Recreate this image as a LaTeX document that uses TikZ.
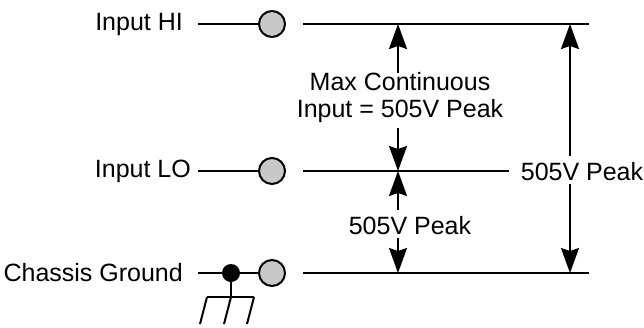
\documentclass[tikz,border=0pt]{standalone}
\usepackage{fontspec}
\setmainfont{Liberation Sans}
\usetikzlibrary{arrows.meta, positioning}
\definecolor{termgray}{RGB}{200,200,200}
\tikzset{
    wire/.style={line width=2pt},
    dim/.style={line width=1.8pt, -{Stealth[length=25pt, width=18pt, inset=3pt]}},
    term/.style={draw, line width=2pt, fill=termgray, circle, minimum size=26pt, inner sep=0pt},
    tie/.style={fill=black, circle, minimum size=18pt, inner sep=0pt},
    lbl/.style={inner sep=0pt, font=\fontsize{25}{27}\selectfont}
}
\begin{document}
\begin{tikzpicture}[x=1pt, y=-1pt]
    \useasboundingbox (0,0) rectangle (644,327);
    % labels
    \node[lbl, anchor=east] (hi) at (183,24) {Input HI};
    \node[lbl, anchor=east] (lo) at (191,171) {Input LO};
    \node[lbl, anchor=east] (gnd) at (183,273) {Chassis Ground};
    % terminals
    \node[term] (thi) at (272,24) {};
    \node[term] (tlo) at (272,171) {};
    \node[term] (tgnd) at (272,273) {};
    \node[tie] (dot) at (231,273) {};
    \coordinate (l1) at (198,24);
    \coordinate (l2) at (198,171);
    \coordinate (l3) at (198,273);
    \draw[wire] (l1) -- (thi);
    \draw[wire] (l2) -- (tlo);
    \draw[wire] (l3) -- (dot) -- (tgnd);
    % buses
    \coordinate (b1) at (303,24);
    \coordinate (b2) at (303,171);
    \coordinate (b3) at (303,273);
    \coordinate (e1) at (589,24);
    \coordinate (e2) at (509,171);
    \coordinate (e3) at (589,273);
    \draw[wire] (b1) -- (e1);
    \draw[wire] (b2) -- (e2);
    \draw[wire] (b3) -- (e3);
    % ground symbol
    \coordinate (g0) at (231,297);
    \coordinate (g1) at (207,297);
    \coordinate (g2) at (254,297);
    \draw[wire] (dot) -- (g0);
    \draw[wire] (g1) -- (g2);
    \draw[wire] (g1) -- ++(-7,27);
    \draw[wire] (g0) -- ++(-7,27);
    \draw[wire] (g2) -- ++(-7,27);
    % voltage labels
    \node[lbl, align=center] (maxin) at (400,98) {Max Continuous\\Input = 505V Peak};
    \node[lbl] (pklo) at (410,226) {505V Peak};
    \node[lbl] (pkall) at (582,172) {505V Peak};
    \coordinate (a1) at (398,24);
    \coordinate (a2) at (398,171);
    \coordinate (a3) at (398,273);
    \coordinate (r1) at (570,24);
    \coordinate (r3) at (570,273);
    \draw[dim] (398,73) -- (a1);
    \draw[dim] (398,128) -- (a2);
    \draw[dim] (398,210) -- (a2);
    \draw[dim] (398,238) -- (a3);
    \draw[dim] (570,156) -- (r1);
    \draw[dim] (570,184) -- (r3);
\end{tikzpicture}
\end{document}
